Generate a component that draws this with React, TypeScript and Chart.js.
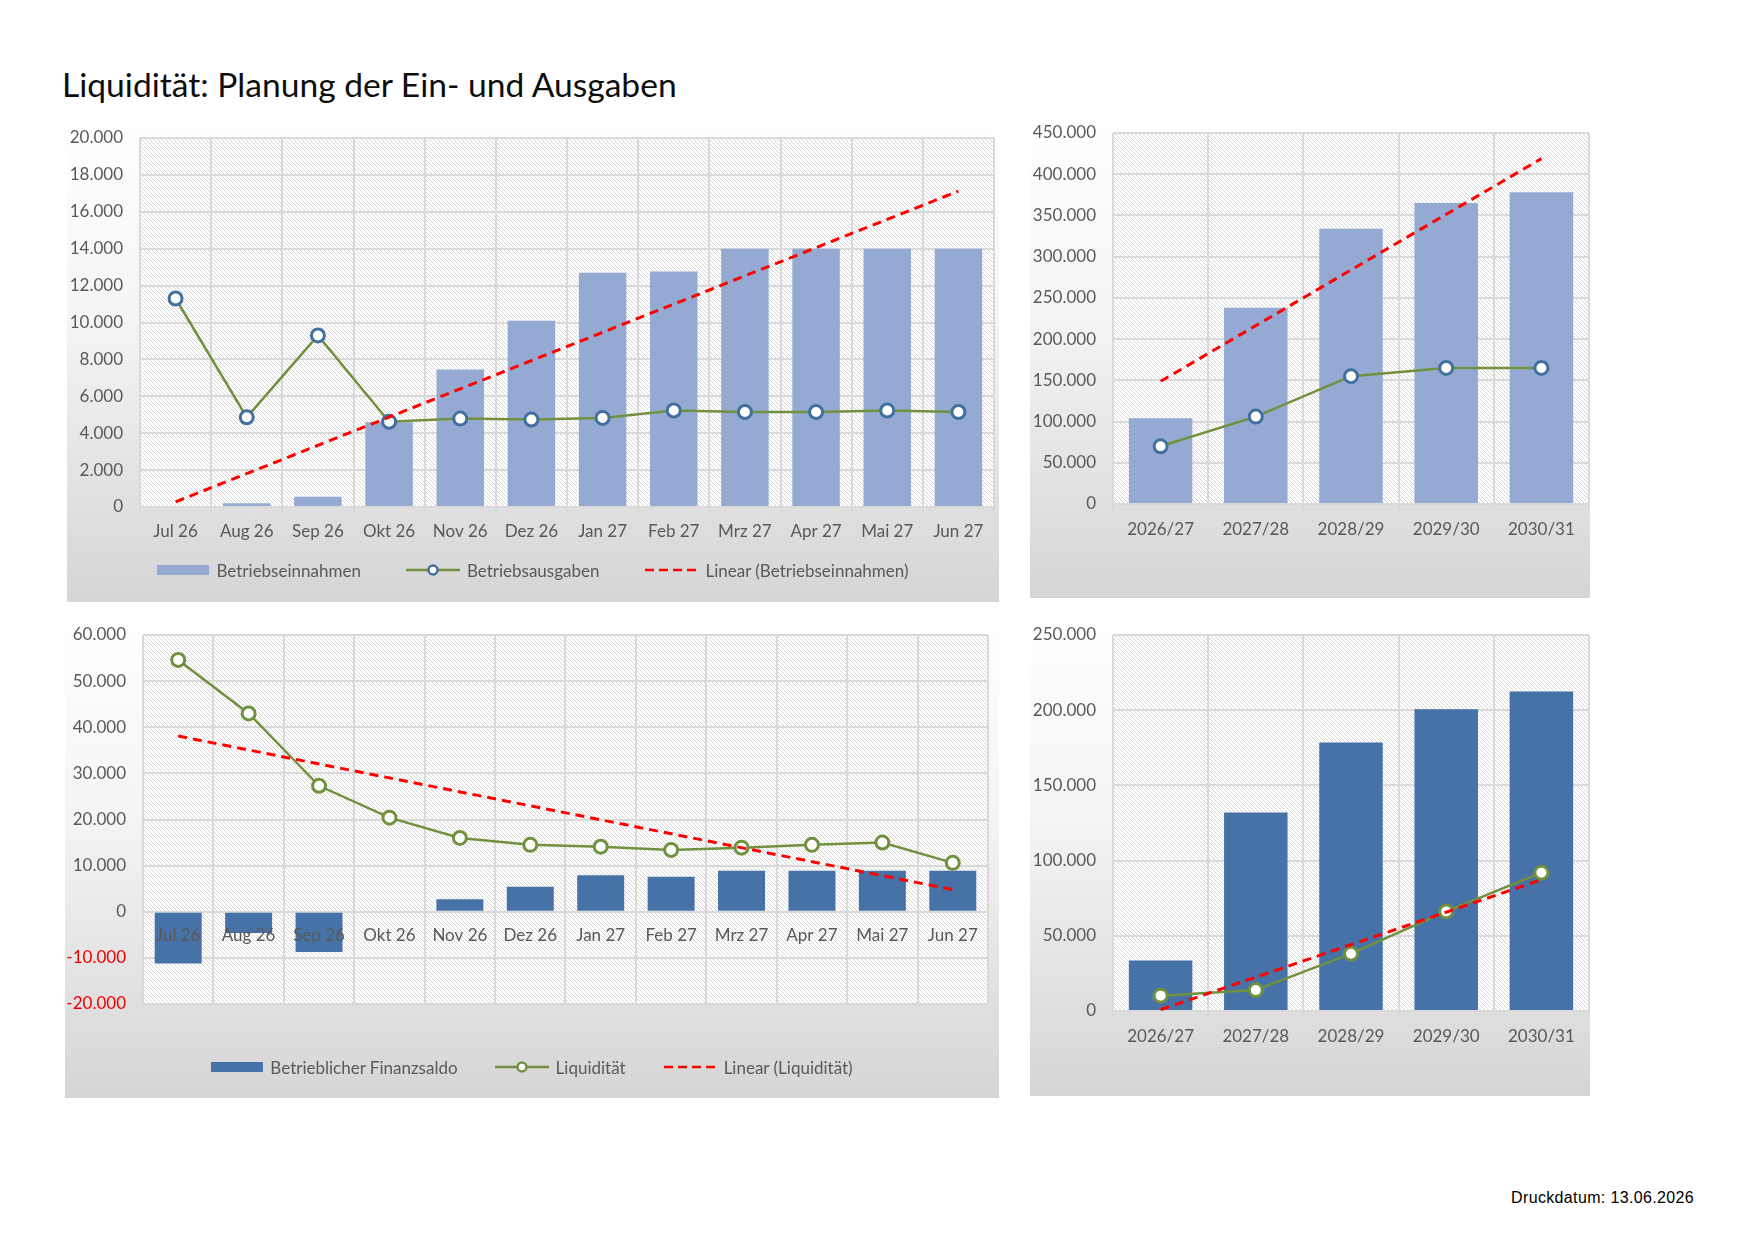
import React, { useEffect, useRef } from "react";
import { Chart, registerables } from "chart.js";

Chart.register(...registerables);

// ---- data ----------------------------------------------------------------
const months = ["Jul 26", "Aug 26", "Sep 26", "Okt 26", "Nov 26", "Dez 26", "Jan 27", "Feb 27", "Mrz 27", "Apr 27", "Mai 27", "Jun 27"];
const years = ["2026/27", "2027/28", "2028/29", "2029/30", "2030/31"];

const einnahmenMonat = [0, 200, 550, 4600, 7450, 10100, 12700, 12770, 14000, 14000, 14000, 14000];
const ausgabenMonat = [11300, 4860, 9300, 4620, 4790, 4740, 4830, 5230, 5150, 5150, 5230, 5150];
const trendEinnahmenMonat = [280, 17120]; // first / last month

const einnahmenJahr = [104000, 238000, 334000, 365000, 378000];
const ausgabenJahr = [70000, 106000, 155000, 165000, 165000];
const trendEinnahmenJahr = [148800, 418900];

const saldoMonat = [-11200, -4600, -8700, 0, 2700, 5400, 7900, 7600, 8900, 8900, 8900, 8900];
const liquiditaetMonat = [54600, 43000, 27300, 20400, 16000, 14500, 14100, 13400, 13900, 14500, 15000, 10600];
const trendLiquiditaetMonat = [38100, 4800];

const saldoJahr = [33600, 131900, 178500, 200700, 212400];
const liquiditaetJahr = [10200, 13900, 38100, 66200, 92000];
const trendLiquiditaetJahr = [900, 87300];

// ---- styling -------------------------------------------------------------
const FONT = "Lato, 'Open Sans', sans-serif";
const TEXT = "#595959";
const GRID = "#d9d9d9";
const BAR_LIGHT = "#94aad3";
const BAR_DARK = "#4672a7";
const GREEN = "#71913f";
const MARKER_BLUE = "#41709f";
const TREND_RED = "#ff0000";
const NEG_RED = "#ee0000";

const tickFont = { family: FONT, size: 17 };

function fmt(v: number): string {
  const s = Math.abs(Math.round(v)).toString().replace(/\B(?=(\d{3})+(?!\d))/g, ".");
  return (v < 0 ? "-" : "") + s;
}

function makeHatch(ctx: CanvasRenderingContext2D): CanvasPattern | string {
  const tile = document.createElement("canvas");
  tile.width = 4;
  tile.height = 4;
  const t = tile.getContext("2d");
  if (!t) return "#ffffff";
  t.fillStyle = "#ffffff";
  t.fillRect(0, 0, 4, 4);
  t.fillStyle = "#d6d6d6";
  for (let i = 0; i < 4; i++) t.fillRect(i, i, 1, 1);
  return ctx.createPattern(tile, "repeat") || "#ffffff";
}

// white plot area with a fine downward diagonal hatch
const plotBackground = {
  id: "plotBackground",
  beforeDraw(chart: any) {
    const { ctx, chartArea: a } = chart;
    ctx.save();
    ctx.fillStyle = makeHatch(ctx);
    ctx.fillRect(a.left, a.top, a.right - a.left, a.bottom - a.top);
    ctx.restore();
  },
};

function trendPoints(labels: string[], ends: number[]) {
  return [
    { x: labels[0], y: ends[0] },
    { x: labels[labels.length - 1], y: ends[1] },
  ];
}

function yScale(min: number, max: number, step: number, width: number) {
  return {
    min,
    max,
    ticks: {
      stepSize: step,
      callback: (v: any) => fmt(Number(v)),
      color: (c: any) => (c.tick && c.tick.value < 0 ? NEG_RED : TEXT),
      font: tickFont,
      padding: 0,
    },
    // invisible tick marks give the gap between labels and plot
    grid: { color: GRID, lineWidth: 2, drawTicks: true, tickLength: 17, tickColor: "rgba(0,0,0,0)" },
    border: { display: false },
    afterFit: (s: any) => {
      s.width = width;
    },
  };
}

function xBottom(padding: number) {
  return {
    type: "category",
    offset: true,
    grid: { color: GRID, lineWidth: 2, offset: true, tickLength: 5 },
    border: { color: GRID, width: 2 },
    ticks: { color: TEXT, font: tickFont, padding, maxRotation: 0, autoSkip: false },
    afterFit: (s: any) => {
      s.height = 40;
      s.paddingLeft = 0;
      s.paddingRight = 0;
    },
  };
}

function trendSet(labels: string[], ends: number[]) {
  return {
    type: "line",
    label: "trend",
    data: trendPoints(labels, ends),
    borderColor: TREND_RED,
    borderWidth: 3,
    borderDash: [9, 6],
    pointRadius: 0,
    fill: false,
    order: 0,
  };
}

function lineSet(values: number[], marker: string) {
  return {
    type: "line",
    data: values,
    borderColor: GREEN,
    borderWidth: 2.5,
    pointRadius: 6.5,
    pointBorderWidth: 3,
    pointBackgroundColor: "#ffffff",
    pointBorderColor: marker,
    tension: 0,
    fill: false,
    order: 1,
  };
}

function barSet(values: number[], color: string) {
  return {
    type: "bar",
    data: values,
    backgroundColor: color,
    barPercentage: 0.667,
    categoryPercentage: 1,
    order: 2,
  };
}

const baseOptions = {
  responsive: false,
  animation: false,
  events: [],
  plugins: { legend: { display: false }, tooltip: { enabled: false } },
};

const config1 = {
  type: "bar",
  data: {
    labels: months,
    datasets: [trendSet(months, trendEinnahmenMonat), lineSet(ausgabenMonat, MARKER_BLUE), barSet(einnahmenMonat, BAR_LIGHT)],
  },
  options: {
    ...baseOptions,
    layout: { autoPadding: false, padding: { top: 17, right: 5, bottom: 55, left: 0 } },
    scales: { x: xBottom(9), y: yScale(0, 20000, 2000, 73) },
  },
  plugins: [plotBackground],
};

const config2 = {
  type: "bar",
  data: {
    labels: years,
    datasets: [trendSet(years, trendEinnahmenJahr), lineSet(ausgabenJahr, MARKER_BLUE), barSet(einnahmenJahr, BAR_LIGHT)],
  },
  options: {
    ...baseOptions,
    layout: { autoPadding: false, padding: { top: 12, right: 1, bottom: 54, left: 0 } },
    scales: { x: xBottom(10), y: yScale(0, 450000, 50000, 83) },
  },
  plugins: [plotBackground],
};

const config3 = {
  type: "bar",
  data: {
    labels: months,
    datasets: [trendSet(months, trendLiquiditaetMonat), lineSet(liquiditaetMonat, GREEN), barSet(saldoMonat, BAR_DARK)],
  },
  options: {
    ...baseOptions,
    layout: { autoPadding: false, padding: { top: 16, right: 11, bottom: 94, left: 0 } },
    scales: {
      x: {
        type: "category",
        offset: true,
        grid: { color: GRID, lineWidth: 2, offset: true, drawTicks: false },
        border: { display: false },
        ticks: { display: false },
        afterFit: (s: any) => {
          s.height = 0;
          s.paddingLeft = 0;
          s.paddingRight = 0;
        },
      },
      // category labels sit at the zero line, drawn over the bars
      xl: {
        type: "category",
        axis: "x",
        position: { y: 0 },
        offset: true,
        grid: { display: false },
        border: { display: false },
        ticks: { z: 1, color: TEXT, font: tickFont, padding: 5.5, maxRotation: 0, autoSkip: false },
      },
      y: yScale(-20000, 60000, 10000, 78),
    },
  },
  plugins: [plotBackground],
};

const config4 = {
  type: "bar",
  data: {
    labels: years,
    datasets: [trendSet(years, trendLiquiditaetJahr), lineSet(liquiditaetJahr, GREEN), barSet(saldoJahr, BAR_DARK)],
  },
  options: {
    ...baseOptions,
    layout: { autoPadding: false, padding: { top: 16, right: 1, bottom: 45, left: 0 } },
    scales: { x: xBottom(10), y: yScale(0, 250000, 50000, 83) },
  },
  plugins: [plotBackground],
};

// ---- components ----------------------------------------------------------
type LegendItem = { kind: "bar" | "line" | "trend"; label: string; color: string; marker?: string };

function LegendSymbol({ item }: { item: LegendItem }) {
  if (item.kind === "bar") {
    return (
      <svg width={52} height={16}>
        <rect x={0} y={3} width={52} height={10} fill={item.color} />
      </svg>
    );
  }
  if (item.kind === "line") {
    return (
      <svg width={54} height={16}>
        <line x1={0} y1={8} x2={54} y2={8} stroke={item.color} strokeWidth={2.5} />
        <circle cx={27} cy={8} r={4.5} fill="#ffffff" stroke={item.marker} strokeWidth={2.5} />
      </svg>
    );
  }
  return (
    <svg width={54} height={16}>
      <line x1={1} y1={8} x2={54} y2={8} stroke={item.color} strokeWidth={2.5} strokeDasharray="9 5" />
    </svg>
  );
}

function Legend({ items, top, gap }: { items: LegendItem[]; top: number; gap: number }) {
  return (
    <div
      style={{
        position: "absolute",
        left: 0,
        right: 0,
        top,
        height: 22,
        display: "flex",
        justifyContent: "center",
        alignItems: "center",
        gap,
        fontFamily: FONT,
        fontSize: 17,
        color: TEXT,
        whiteSpace: "nowrap",
      }}
    >
      {items.map((it) => (
        <div key={it.label} style={{ display: "flex", alignItems: "center", gap: 7 }}>
          <LegendSymbol item={it} />
          <span>{it.label}</span>
        </div>
      ))}
    </div>
  );
}

function Panel({
  config,
  left,
  top,
  width,
  height,
  legend,
}: {
  config: any;
  left: number;
  top: number;
  width: number;
  height: number;
  legend?: React.ReactNode;
}) {
  const ref = useRef<HTMLCanvasElement | null>(null);
  useEffect(() => {
    if (!ref.current) return;
    const chart = new Chart(ref.current, config);
    return () => chart.destroy();
  }, [config]);
  return (
    <div
      style={{
        position: "absolute",
        left,
        top,
        width,
        height,
        background: "linear-gradient(to bottom, #ffffff 0%, #f4f4f4 42%, #d5d5d5 100%)",
      }}
    >
      <canvas ref={ref} width={width} height={height} style={{ position: "absolute", left: 0, top: 0 }} />
      {legend}
    </div>
  );
}

const legend1: LegendItem[] = [
  { kind: "bar", label: "Betriebseinnahmen", color: BAR_LIGHT },
  { kind: "line", label: "Betriebsausgaben", color: GREEN, marker: MARKER_BLUE },
  { kind: "trend", label: "Linear (Betriebseinnahmen)", color: TREND_RED },
];

const legend3: LegendItem[] = [
  { kind: "bar", label: "Betrieblicher Finanzsaldo", color: BAR_DARK },
  { kind: "line", label: "Liquidität", color: GREEN, marker: GREEN },
  { kind: "trend", label: "Linear (Liquidität)", color: TREND_RED },
];

export default function App() {
  return (
    <div
      style={{
        position: "fixed",
        left: 0,
        top: 0,
        width: 1754,
        height: 1240,
        background: "#ffffff",
        overflow: "hidden",
      }}
    >
      <div
        style={{
          position: "absolute",
          left: 62,
          top: 67,
          fontFamily: FONT,
          fontSize: 33.6,
          lineHeight: "34px",
          color: "#0d0d0d",
          whiteSpace: "nowrap",
        }}
      >
        Liquidität: Planung der Ein- und Ausgaben
      </div>

      <Panel config={config1} left={67} top={121} width={932} height={481} legend={<Legend items={legend1} top={438} gap={45} />} />
      <Panel config={config2} left={1030} top={121} width={560} height={477} />
      <Panel config={config3} left={65} top={619} width={934} height={479} legend={<Legend items={legend3} top={437} gap={37} />} />
      <Panel config={config4} left={1030} top={619} width={560} height={477} />

      <div
        style={{
          position: "absolute",
          right: 1754 - 1694,
          top: 1190,
          fontFamily: "'Liberation Sans', Arial, sans-serif",
          fontSize: 16,
          lineHeight: "16px",
          letterSpacing: "0.35px",
          color: "#000000",
          whiteSpace: "nowrap",
        }}
      >
        Druckdatum: 13.06.2026
      </div>
    </div>
  );
}
